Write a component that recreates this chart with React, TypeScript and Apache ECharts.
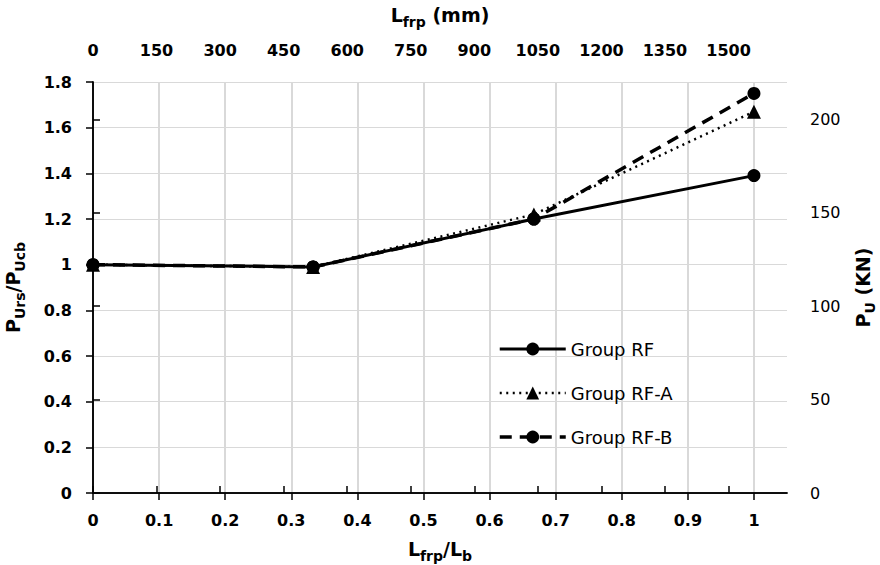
import React, { useEffect, useRef } from "react";
import * as echarts from "echarts";

const lengthRatio = [0, 0.333, 0.667, 1];
const groupRF = [1.0, 0.99, 1.2, 1.39];
const groupRFA = [1.0, 0.99, 1.22, 1.67];
const groupRFB = [1.0, 0.99, 1.2, 1.75];
const seriesNames = ["Group RF", "Group RF-A", "Group RF-B"];
const bottomTicks = [0, 0.1, 0.2, 0.3, 0.4, 0.5, 0.6, 0.7, 0.8, 0.9, 1];
const topTicks = [0, 150, 300, 450, 600, 750, 900, 1050, 1200, 1350, 1500];
const rightTicks = [0, 50, 100, 150, 200];

const FONT = "DejaVu Sans";

export default function App() {
  const ref = useRef<HTMLDivElement>(null);
  useEffect(() => {
    if (!ref.current) return;
    const chart = echarts.init(ref.current, undefined, { renderer: "svg" });
    const pts = (ys: number[]) => lengthRatio.map((x, i) => [x, ys[i]]);
    const nameRich = {
      m: { fontFamily: FONT, fontSize: 19, fontWeight: "bold", color: "#000" },
      s: { fontFamily: FONT, fontSize: 14, fontWeight: "bold", color: "#000", padding: [14, 0, 0, 0] },
    };
    const boldLabel = { fontFamily: FONT, fontSize: 16, fontWeight: "bold", color: "#000" };
    const axisLine = { show: true, lineStyle: { color: "#000", width: 1.5 } };
    const tick = (vals: number[]) => ({
      show: true,
      inside: false,
      length: 7,
      customValues: vals,
      lineStyle: { color: "#000", width: 1.5 },
    });
    const fmt = (v: number) => String(+v.toFixed(2));
    chart.setOption({
      animation: false,
      backgroundColor: "#fff",
      textStyle: { fontFamily: FONT },
      grid: { left: 93, right: 93, top: 82, bottom: 72, containLabel: false, outerBoundsMode: "none" },
      legend: {
        data: seriesNames,
        orient: "vertical",
        left: 498,
        top: 340,
        padding: 0,
        itemWidth: 66,
        itemHeight: 16,
        itemGap: 26,
        lineStyle: { width: "inherit" },
        textStyle: { fontFamily: FONT, fontSize: 18, color: "#000" },
      },
      xAxis: [
        {
          type: "value",
          position: "bottom",
          min: 0,
          max: 1.05,
          interval: 0.1,
          axisLine,
          axisTick: tick(bottomTicks),
          axisLabel: { ...boldLabel, margin: 19, customValues: bottomTicks, formatter: fmt },
          splitLine: { show: true, lineStyle: { color: "#d9d9d9", width: 2 } },
          name: "{m|L}{s|frp}{m|/L}{s|b}",
          nameLocation: "middle",
          nameGap: 42,
          nameTextStyle: { rich: nameRich },
        },
        {
          type: "value",
          position: "top",
          min: 0,
          max: 1638,
          interval: 150,
          axisLine,
          axisTick: tick(topTicks),
          axisLabel: { ...boldLabel, margin: 24, customValues: topTicks, formatter: fmt },
          splitLine: { show: false },
          name: "{m|L}{s|frp}{m| (mm)}",
          nameLocation: "middle",
          nameGap: 53,
          nameTextStyle: { rich: nameRich },
        },
      ],
      yAxis: [
        {
          type: "value",
          position: "left",
          min: 0,
          max: 1.8,
          interval: 0.2,
          axisLine,
          axisTick: { show: true, length: 7, lineStyle: { color: "#000", width: 1.5 } },
          axisLabel: { ...boldLabel, margin: 21, formatter: fmt },
          splitLine: { show: true, lineStyle: { color: "#d9d9d9", width: 1 } },
          name: "{m|P}{s|Urs}{m|/P}{s|Ucb}",
          nameLocation: "middle",
          nameRotate: 90,
          nameGap: 66,
          nameTextStyle: { rich: nameRich },
        },
        {
          type: "value",
          position: "right",
          min: 0,
          max: 220,
          interval: 50,
          axisLine,
          axisTick: tick(rightTicks),
          axisLabel: {
            fontFamily: FONT,
            fontSize: 16,
            color: "#000",
            margin: 23,
            customValues: rightTicks,
            formatter: fmt,
          },
          splitLine: { show: false },
          name: "{m|P}{s|U}{m| (KN)}",
          nameLocation: "middle",
          nameRotate: 90,
          nameGap: 62,
          nameTextStyle: { rich: nameRich },
        },
      ],
      series: [
        {
          name: seriesNames[0],
          type: "line",
          xAxisIndex: 0,
          yAxisIndex: 0,
          data: pts(groupRF),
          symbol: "circle",
          symbolSize: 13,
          color: "#000",
          lineStyle: { color: "#000", width: 3, type: "solid" },
          itemStyle: { color: "#000" },
          z: 3,
        },
        {
          name: seriesNames[1],
          type: "line",
          xAxisIndex: 0,
          yAxisIndex: 0,
          data: pts(groupRFA),
          symbol: "triangle",
          symbolSize: 14,
          color: "#000",
          lineStyle: { color: "#000", width: 2.5, type: [2, 4.5] },
          itemStyle: { color: "#000" },
          z: 4,
        },
        {
          name: seriesNames[2],
          type: "line",
          xAxisIndex: 0,
          yAxisIndex: 0,
          data: pts(groupRFB),
          symbol: "circle",
          symbolSize: 13,
          color: "#000",
          lineStyle: { color: "#000", width: 3.5, type: [12, 8] },
          itemStyle: { color: "#000" },
          z: 5,
        },
      ],
    });
    return () => chart.dispose();
  }, []);
  return (
    <div
      ref={ref}
      style={{ position: "fixed", left: 0, top: 0, width: 880, height: 565, background: "#fff" }}
    />
  );
}
